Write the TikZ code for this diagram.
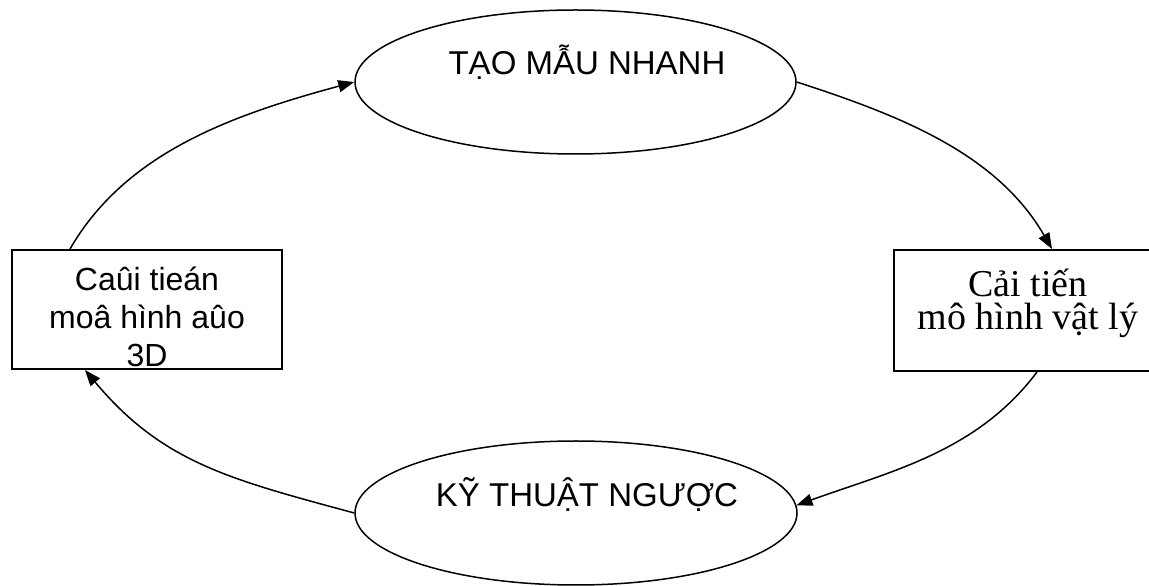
\documentclass[tikz,border=0pt]{standalone}
\usepackage{fontspec}
\setmainfont{Liberation Serif}
\newfontfamily\arial{Liberation Sans}
\usetikzlibrary{shapes.geometric,arrows.meta,calc}
\begin{document}
\begin{tikzpicture}[x=1pt,y=1pt,
  ell/.style={draw,ellipse,line width=1.5pt,inner sep=0pt},
  boxnode/.style={draw,rectangle,line width=2pt,inner sep=0pt},
  sanslbl/.style={font=\arial\fontsize{33}{38}\selectfont,inner sep=0pt},
  conn/.style={line width=1.5pt,-{Triangle[length=16pt,width=12pt]}}]
\useasboundingbox (0,0) rectangle (1149,586);
% nodes
\node[ell,minimum width=441pt,minimum height=144pt] (top) at (575.5,504) {};
\node[ell,minimum width=442pt,minimum height=144pt] (bot) at (576,73) {};
\node[boxnode,minimum width=270pt,minimum height=119pt] (lbox) at (147,276.5) {};
\node[boxnode,minimum width=266pt,minimum height=121pt] (rbox) at (1027,275.5) {};
% texts
\node[sanslbl,anchor=base] (toptext) at (587,511) {TẠO MẪU NHANH};
\node[sanslbl,anchor=base] (bottext) at (587,79) {KỸ THUẬT NGƯỢC};
\node[font=\arial\fontsize{32}{38}\selectfont,align=center,inner sep=0pt,anchor=base] (ltext) at (147,219) {Caûi tieán\\moâ hình aûo\\3D};
\node[font=\fontsize{38}{33}\selectfont,align=center,inner sep=0pt,anchor=base] (rtext) at (1028,256) {Cải tiến\\mô hình vật lý};
% connectors
\draw[conn] ($(lbox.north west)+(59,0)$) .. controls +(55,95) and +(-126,-34) .. (top.west);
\draw[conn] (top.east) .. controls +(105,-34) and +(-55,95) .. ($(rbox.north west)+(159,0)$);
\draw[conn] ($(rbox.south west)+(144,0)$) .. controls +(-60,-80) and +(94,34) .. (bot.2);
\draw[conn] (bot.west) .. controls +(-126,34) and +(77,-92) .. ($(lbox.south west)+(74,0)$);
\end{tikzpicture}
\end{document}
